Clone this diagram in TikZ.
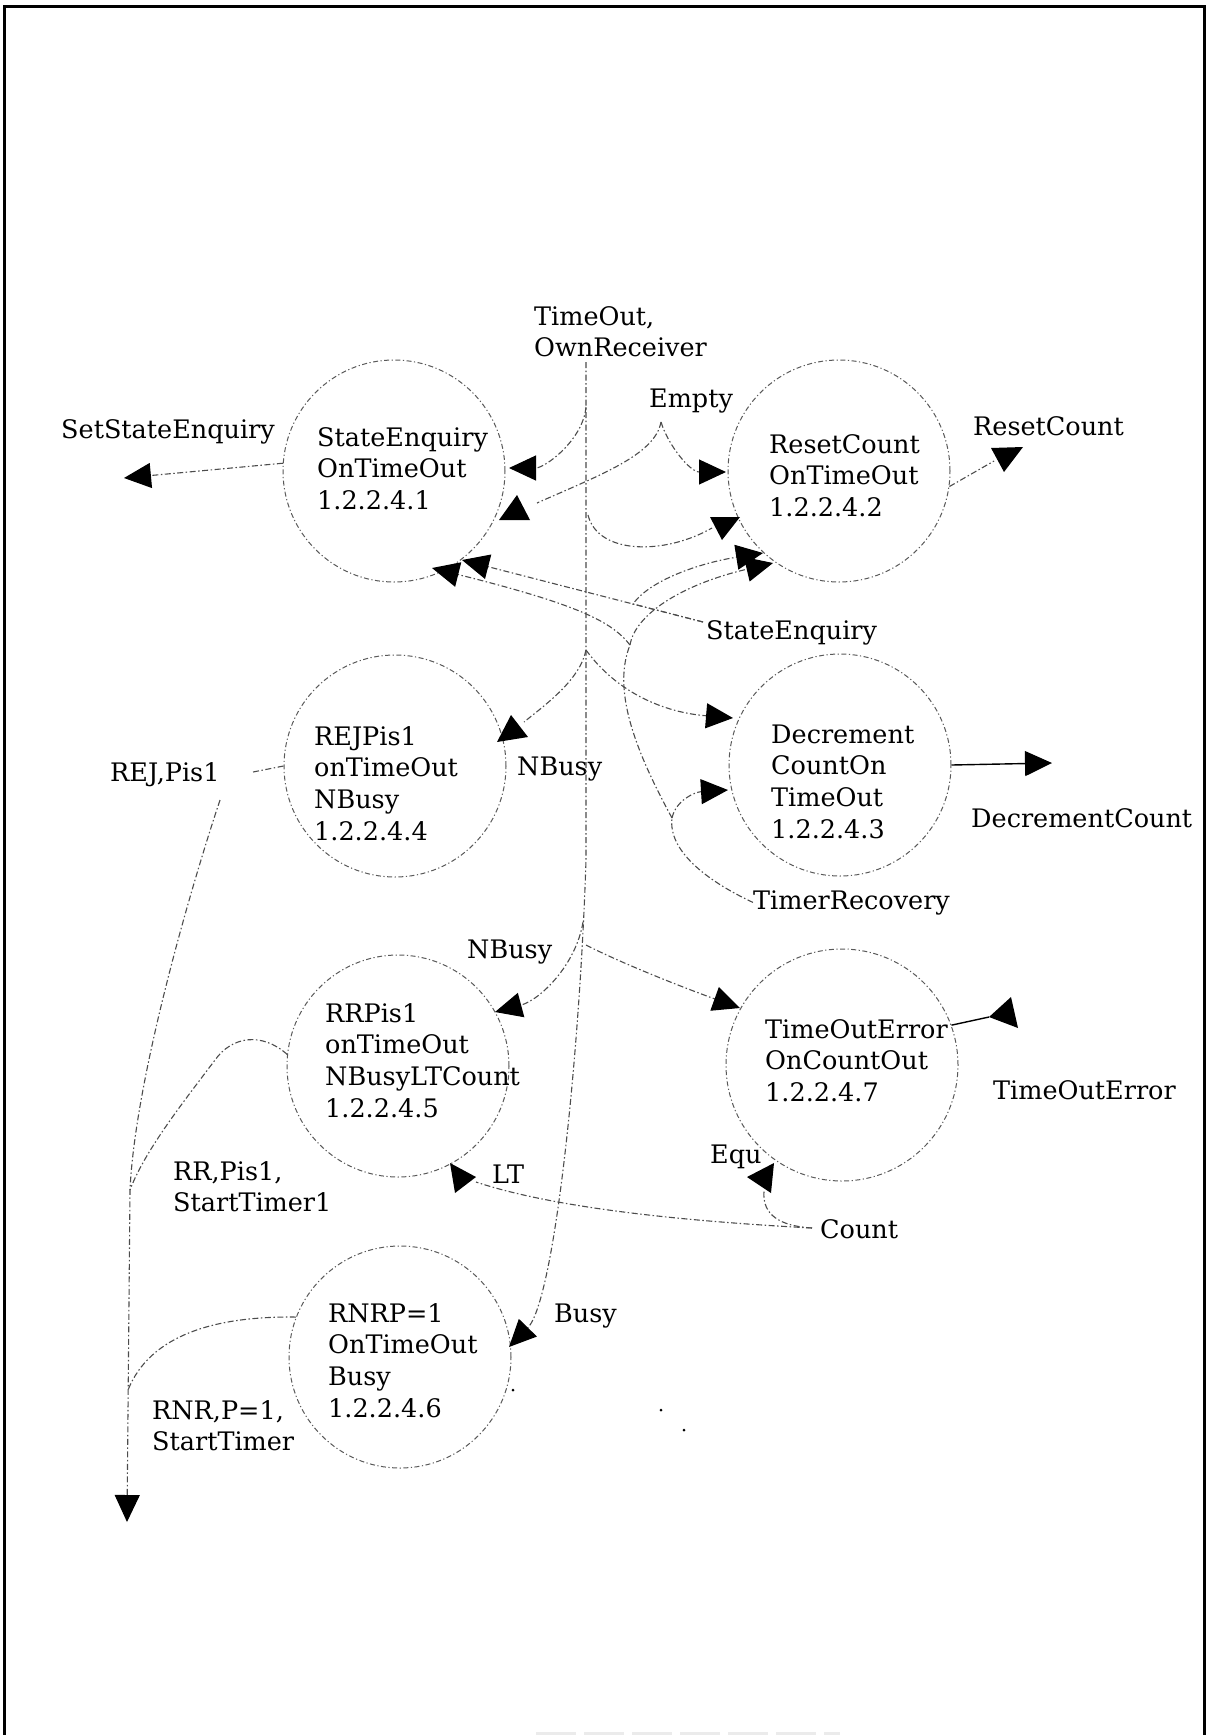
\documentclass[tikz,border=0pt]{standalone}
\usepackage{fontspec}
\setmainfont{DejaVu Serif}
\usetikzlibrary{arrows.meta}
\newcommand\lblsize{\fontsize{25.5}{31.7}\selectfont}
\newcommand\firststrut{\rule{0pt}{20pt}}
\begin{document}
\begin{tikzpicture}[x=1pt,y=-1pt,
  conn/.style={draw=black!70,line width=1.1pt,dash pattern=on 6pt off 2.5pt on 1.5pt off 2.5pt},
  solidconn/.style={draw=black,line width=1.4pt},
  arrowtip/.style={-{Triangle[length=27pt,width=25pt,color=black]}},
  head/.style={fill=black},
  statecircle/.style={circle,draw=black!65,line width=1pt,dash pattern=on 5pt off 2.5pt on 1.2pt off 2.5pt,minimum size=222pt,inner sep=0pt},
  intext/.style={inner sep=0pt,align=left,anchor=north west,font=\lblsize},
  lbl/.style={inner sep=0pt,anchor=base west,font=\lblsize}]

\useasboundingbox (0,0) rectangle (1209,1735);

% frame
\draw[line width=3pt] (4,1735) -- (4,6) -- (1204,6) -- (1204,1735);
\draw[black!8,line width=3pt,dash pattern=on 40pt off 8pt] (536,1733) -- (840,1733);

% states
\node[statecircle] (se)  at (394,471)  {};
\node[statecircle] (rc)  at (839,471)  {};
\node[statecircle] (rej) at (395,766)  {};
\node[statecircle] (dc)  at (840,765)  {};
\node[statecircle] (rr)  at (398,1066) {};
\node[statecircle,minimum size=232pt] (toe) at (842,1065) {};
\node[statecircle] (rnr) at (400,1357) {};

% state names
\node[intext] (seT)  at (317,426)  {\firststrut StateEnquiry\\OnTimeOut\\1.2.2.4.1};
\node[intext] (rcT)  at (769,433)  {\firststrut ResetCount\\OnTimeOut\\1.2.2.4.2};
\node[intext] (rejT) at (314,725)  {\firststrut REJPis1\\onTimeOut\\NBusy\\1.2.2.4.4};
\node[intext] (dcT)  at (771,723)  {\firststrut Decrement\\CountOn\\TimeOut\\1.2.2.4.3};
\node[intext] (rrT)  at (325,1002) {\firststrut RRPis1\\onTimeOut\\NBusyLTCount\\1.2.2.4.5};
\node[intext] (toeT) at (765,1018) {\firststrut TimeOutError\\OnCountOut\\1.2.2.4.7};
\node[intext] (rnrT) at (328,1302) {\firststrut RNRP=1\\OnTimeOut\\Busy\\1.2.2.4.6};

% event and action labels
\node[lbl] (lSSE)  at (61,438)   {SetStateEnquiry};
\node[intext] (lTO) at (534,305) {\firststrut TimeOut,\\OwnReceiver};
\node[lbl] (lEmpty) at (649,407) {Empty};
\node[lbl] (lRCo)  at (973,435)  {ResetCount};
\node[lbl] (lSEq)  at (706,639)  {StateEnquiry};
\node[lbl] (lNB1)  at (517,775)  {NBusy};
\node[lbl] (lREJ)  at (110,781)  {REJ,Pis1};
\node[lbl] (lDCo)  at (971,827)  {DecrementCount};
\node[lbl] (lTR)   at (753,909)  {TimerRecovery};
\node[lbl] (lNB2)  at (467,958)  {NBusy};
\node[lbl] (lTOE)  at (993,1099) {TimeOutError};
\node[lbl] (lEqu)  at (710,1163) {Equ};
\node[lbl] (lLT)   at (492,1183) {LT};
\node[lbl] (lCnt)  at (820,1238) {Count};
\node[intext] (lRR) at (173,1160) {\firststrut RR,Pis1,\\StartTimer1};
\node[lbl] (lBusy) at (554,1322) {Busy};
\node[intext] (lRNR) at (152,1399) {\firststrut RNR,P=1,\\StartTimer};

% points along the connectors
\coordinate (tTop)  at (586,362);
\coordinate (tBend) at (586,860);
\coordinate (b1) at (586,407);
\coordinate (b2) at (588,515);
\coordinate (b3) at (586,650);
\coordinate (b4) at (583,922);
\coordinate (b5) at (586,945);
\coordinate (ef) at (661,422);
\coordinate (sq) at (703,622);
\coordinate (c3s) at (633,604);
\coordinate (trk) at (672,818);
\coordinate (trc) at (630,645);
\coordinate (rejA) at (253,772);
\coordinate (rejB) at (220,800);
\coordinate (join) at (130,1190);
\coordinate (join2) at (128,1390);
\coordinate (cntW) at (812,1228);

% arrow ends
\coordinate (tSSE) at (124,478);
\coordinate (tSEa) at (509,468);
\coordinate (tSEc) at (462,560);
\coordinate (tSEd) at (432,568);
\coordinate (tRCa) at (726,472);
\coordinate (tRCc) at (763,553);
\coordinate (tRCd) at (773,563);
\coordinate (tDCa) at (733,718);
\coordinate (tDCb) at (728,790);
\coordinate (tDCo) at (1052,763);
\coordinate (tRR)  at (495,1012);
\coordinate (tTOE) at (740,1008);
\coordinate (tRNR) at (509,1347);
\coordinate (tDown) at (127,1522);
\coordinate (eSEb) at (537,503);
\coordinate (eRCb) at (712,528);
\coordinate (eREJ) at (524,722);
\coordinate (eRCo) at (994,461);
\coordinate (eTOE) at (989,1017);
\coordinate (eLT)  at (476,1182);
\coordinate (eEqu) at (764,1191);

% main trunk from TimeOut, OwnReceiver
\draw[conn,arrowtip] (tTop) -- (tBend) .. controls (580,1050) and (555,1300) .. (tRNR);
\draw[conn,arrowtip] (b1) .. controls (583,440) and (545,468) .. (tSEa);
\draw[conn] (b2) .. controls (598,555) and (665,555) .. (eRCb);
\draw[conn] (b3) .. controls (580,680) and (545,705) .. (eREJ);
\draw[conn,arrowtip] (b3) .. controls (615,690) and (660,712) .. (tDCa);
\draw[conn,arrowtip] (b4) .. controls (576,965) and (540,1000) .. (tRR);
\draw[conn,arrowtip] (b5) .. controls (625,965) and (690,990) .. (tTOE);

% Empty
\draw[conn] (ef) .. controls (655,455) and (600,475) .. (eSEb);
\draw[conn,arrowtip] (ef) .. controls (668,445) and (690,472) .. (tRCa);

% StateEnquiry
\draw[conn,arrowtip] (sq) -- (tSEc);
\draw[conn,arrowtip] (sq) -- (c3s) .. controls (650,580) and (700,563) .. (tRCc);

% TimerRecovery
\draw[conn] (lTR.west) .. controls (705,880) and (668,850) .. (trk);
\draw[conn,arrowtip] (trk) .. controls (676,800) and (695,792) .. (tDCb);
\draw[conn] (trk) .. controls (635,750) and (612,690) .. (trc);
\draw[conn,arrowtip] (trc) .. controls (612,622) and (580,605) .. (tSEd);
\draw[conn,arrowtip] (trc) .. controls (635,615) and (680,585) .. (tRCd);

% outputs
\draw[conn,arrowtip] (se.176) -- (tSSE);
\draw[conn] (rc.-8) -- (eRCo);
\draw[solidconn,arrowtip] (dc.east) -- (tDCo);
\draw[solidconn] (toe.20) -- (eTOE);
\draw[conn] (rej.west) -- (rejA);
\draw[conn,arrowtip] (rejB) .. controls (190,890) and (135,1080) .. (join) -- (tDown);
\draw[conn] (rr.174) .. controls (262,1032) and (232,1036) .. (215,1060) .. controls (185,1100) and (145,1150) .. (join);
\draw[conn] (rnr.159) .. controls (215,1316) and (150,1335) .. (join2);

% Count
\draw[conn] (cntW) .. controls (700,1222) and (560,1210) .. (eLT);
\draw[conn] (cntW) .. controls (780,1226) and (762,1215) .. (eEqu);

% arrowheads drawn as plain triangles
\fill[head] (499,520) -- (530,520) -- (517,495) -- cycle;
\fill[head] (710,517) -- (740,517) -- (722,540) -- cycle;
\fill[head] (497,742) -- (511,715) -- (528,737) -- cycle;
\fill[head] (991,448) -- (1023,447) -- (1004,472) -- cycle;
\fill[head] (989,1017) -- (1011,997) -- (1018,1028) -- cycle;
\fill[head] (450,1163) -- (476,1177) -- (455,1193) -- cycle;
\fill[head] (747,1177) -- (774,1163) -- (771,1193) -- cycle;

% stray specks
\fill (513,1390) circle (1.5);
\fill (661,1410) circle (1.5);
\fill (684,1430) circle (1.5);
\end{tikzpicture}
\end{document}
